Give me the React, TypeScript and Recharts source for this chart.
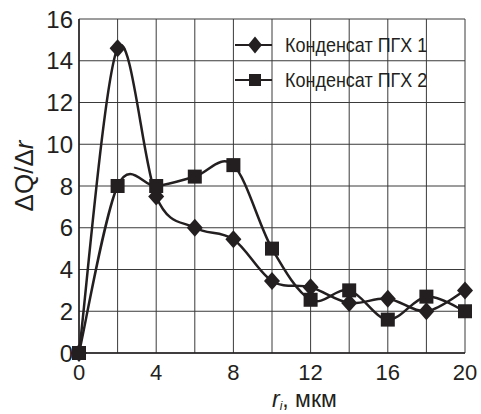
import { CartesianGrid, Legend, Line, LineChart, XAxis, YAxis } from "recharts";

const radius = [0, 2, 4, 6, 8, 10, 12, 14, 16, 18, 20];
const pgx1 = [0, 14.6, 7.5, 6.0, 5.45, 3.45, 3.15, 2.4, 2.6, 2.0, 3.0];
const pgx2 = [0, 8.0, 8.0, 8.45, 9.0, 5.0, 2.55, 3.0, 1.6, 2.7, 2.0];
const seriesNames = ["Конденсат ПГХ 1", "Конденсат ПГХ 2"];
const xTicks = [0, 2, 4, 6, 8, 10, 12, 14, 16, 18, 20];
const yTicks = [0, 2, 4, 6, 8, 10, 12, 14, 16];

const data = radius.map((r, i) => ({ r, a: pgx1[i], b: pgx2[i] }));

const INK = "#231f20";
const FONT = "'Liberation Sans', Arial, sans-serif";

// smoothed line like the spreadsheet one (catmull-rom through every point)
function smoothCurve(context: any) {
  let pts: number[][] = [];
  return {
    areaStart() {},
    areaEnd() {},
    lineStart() {
      pts = [];
    },
    point(x: number, y: number) {
      pts.push([+x, +y]);
    },
    lineEnd() {
      const n = pts.length;
      if (!n) return;
      context.moveTo(pts[0][0], pts[0][1]);
      for (let i = 0; i < n - 1; i++) {
        const p0 = pts[Math.max(i - 1, 0)];
        const p1 = pts[i];
        const p2 = pts[i + 1];
        const p3 = pts[Math.min(i + 2, n - 1)];
        context.bezierCurveTo(
          p1[0] + (p2[0] - p0[0]) / 6,
          p1[1] + (p2[1] - p0[1]) / 6,
          p2[0] - (p3[0] - p1[0]) / 6,
          p2[1] - (p3[1] - p1[1]) / 6,
          p2[0],
          p2[1]
        );
      }
    },
  };
}

const Diamond = ({ cx, cy, w = 8, h = 9 }: any) => (
  <polygon
    points={`${cx},${cy - h} ${cx + w},${cy} ${cx},${cy + h} ${cx - w},${cy}`}
    fill={INK}
  />
);

const Square = ({ cx, cy, s = 7 }: any) => (
  <rect x={cx - s} y={cy - s} width={s * 2} height={s * 2} fill={INK} />
);

const LegendBox = () => (
  <svg width={240} height={70} style={{ display: "block" }}>
    <line x1={5} x2={42} y1={17} y2={17} stroke={INK} strokeWidth={2} />
    <Diamond cx={25} cy={17} w={7} h={8.5} />
    <text
      transform="translate(55 23.5) scale(1 1.15)"
      fontFamily={FONT}
      fontSize={18}
      fill={INK}
    >
      {seriesNames[0]}
    </text>
    <line x1={5} x2={42} y1={52} y2={52} stroke={INK} strokeWidth={2} />
    <Square cx={25} cy={52} s={6} />
    <text
      transform="translate(55 58.5) scale(1 1.15)"
      fontFamily={FONT}
      fontSize={18}
      fill={INK}
    >
      {seriesNames[1]}
    </text>
  </svg>
);

const XLabel = () => (
  <text x={272} y={407} fontFamily={FONT} fontSize={23} fill={INK}>
    <tspan fontStyle="italic">r</tspan>
    <tspan fontStyle="italic" fontSize={12} dy={3}>
      i
    </tspan>
    <tspan dy={-3}>, мкм</tspan>
  </text>
);

const YLabel = () => (
  <text
    transform="translate(33 176) rotate(-90)"
    textAnchor="middle"
    fontFamily={FONT}
    fontSize={26}
    fill={INK}
  >
    ΔQ/Δ<tspan fontStyle="italic">r</tspan>
  </text>
);

export default function App() {
  return (
    <div
      style={{
        position: "absolute",
        left: 0,
        top: 0,
        width: 481,
        height: 414,
        background: "#fff",
      }}
    >
      <LineChart
        width={481}
        height={414}
        data={data}
        margin={{ top: 19, right: 16, left: 19, bottom: 31 }}
      >
        <CartesianGrid stroke="#3a3a3a" strokeWidth={1} />
        <XAxis
          dataKey="r"
          type="number"
          domain={[0, 20]}
          ticks={xTicks}
          tickFormatter={(v: number) => (v % 4 === 0 ? String(v) : "")}
          interval={0}
          height={30}
          tickLine={false}
          tickSize={0}
          tickMargin={11}
          axisLine={{ stroke: INK, strokeWidth: 1.5 }}
          tick={{ fontSize: 22, fill: INK, fontFamily: FONT }}
          label={{ content: XLabel }}
        />
        <YAxis
          type="number"
          domain={[0, 16]}
          ticks={yTicks}
          interval={0}
          width={60}
          tickLine={false}
          tickSize={0}
          tickMargin={6}
          axisLine={{ stroke: INK, strokeWidth: 1.5 }}
          tick={{ fontSize: 24, fill: INK, fontFamily: FONT }}
          label={{ content: YLabel }}
        />
        <Legend
          layout="horizontal"
          verticalAlign="middle"
          align="center"
          content={LegendBox}
          wrapperStyle={{ position: "absolute", left: 230, top: 28, width: 240, height: 70 }}
        />
        <Line
          dataKey="a"
          name={seriesNames[0]}
          type={smoothCurve as any}
          stroke={INK}
          strokeWidth={2.5}
          dot={(p: any) => <Diamond key={`d${p.index}`} cx={p.cx} cy={p.cy} />}
          activeDot={false}
          isAnimationActive={false}
        />
        <Line
          dataKey="b"
          name={seriesNames[1]}
          type={smoothCurve as any}
          stroke={INK}
          strokeWidth={2.5}
          dot={(p: any) => <Square key={`s${p.index}`} cx={p.cx} cy={p.cy} />}
          activeDot={false}
          isAnimationActive={false}
        />
      </LineChart>
    </div>
  );
}
